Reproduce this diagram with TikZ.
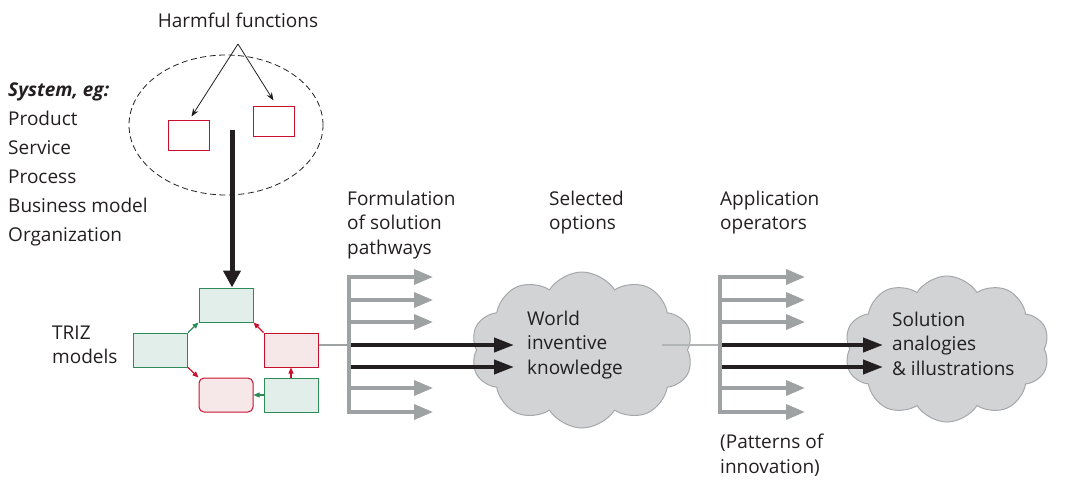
\documentclass[tikz,border=0pt]{standalone}
\usepackage{fontspec}
\setmainfont{Open Sans}
\usetikzlibrary{arrows.meta,shapes.geometric,shapes.symbols}

\definecolor{harmred}{HTML}{C8102E}
\definecolor{harmfill}{HTML}{F6E7E9}
\definecolor{goodgreen}{HTML}{2E8B57}
\definecolor{goodfill}{HTML}{E1EEEA}
\definecolor{pathgray}{HTML}{9EA2A3}
\definecolor{cloudfill}{HTML}{D1D3D4}
\definecolor{cloudline}{HTML}{A5A8AA}
\definecolor{ink}{HTML}{231F20}

\begin{document}
\begin{tikzpicture}[x=1pt,y=-1pt,>=Stealth]
  \tikzstyle{lbl}=[font=\fontsize{19}{24.5}\selectfont, text=ink, align=left, inner sep=0pt]
  \tikzstyle{harmbox}=[draw=harmred, line width=1pt, minimum width=41, minimum height=30]
  \tikzstyle{tz}=[line width=1pt, minimum width=54, minimum height=34]
  \tikzstyle{tzgood}=[tz, draw=goodgreen, fill=goodfill]
  \tikzstyle{tzbad}=[tz, draw=harmred, fill=harmfill]
  \tikzstyle{knowcloud}=[cloud, cloud puffs=10, cloud puff arc=115, draw=cloudline, fill=cloudfill, line width=1pt]
  \tikzstyle{grayarrow}=[pathgray, line width=3.5pt, -{Triangle[length=19pt,width=15pt]}]
  \tikzstyle{blackarrow}=[ink, line width=4pt, -{Triangle[length=20pt,width=14pt]}]
  \tikzstyle{goodarrow}=[goodgreen, line width=1.2pt, -{Triangle[length=6pt,width=5pt]}]
  \tikzstyle{badarrow}=[harmred, line width=1.2pt, -{Triangle[length=6pt,width=5pt]}]
  \useasboundingbox (0,0) rectangle (1072,480);

  % system and its harmful functions
  \node[lbl] (harm) at (238,20) {Harmful functions};
  \node[lbl, anchor=west, font=\fontsize{19}{29}\selectfont] (sysl) at (8,164.5)
    {\textbf{\textit{System, eg:}}\\Product\\Service\\Process\\Business model\\Organization};
  \node[draw=ink, dash pattern=on 6pt off 3.5pt, line width=0.8pt, ellipse, minimum width=194, minimum height=140] (sys) at (226,125) {};
  \node[harmbox] (hf1) at (188.5,135) {};
  \node[harmbox] (hf2) at (273.5,121) {};
  \coordinate (apex) at (238,44);
  \draw[ink, line width=0.8pt, -{Stealth[length=8pt,width=6pt]}] (apex) -- ([xshift=3pt,yshift=3pt]hf1.north);
  \draw[ink, line width=0.8pt, -{Stealth[length=8pt,width=6pt]}] (apex) -- ([yshift=5pt]hf2.north);

  % TRIZ models
  \node[lbl, anchor=west] (triz) at (52,345) {TRIZ\\models};
  \node[tzgood] (tztop) at (226,305) {};
  \node[tzgood] (tzleft) at (160.5,350) {};
  \node[tzbad] (tzright) at (291,350) {};
  \node[tzbad, rounded corners=5pt] (tzbot) at (226,395) {};
  \node[tzgood] (tzbr) at (291,395) {};
  \draw[goodarrow] (tzleft.north east) -- (tztop.south west);
  \draw[badarrow] (tzright.north west) -- (tztop.south east);
  \draw[badarrow] (tzleft.south east) -- (tzbot.north west);
  \draw[badarrow] (tzbr.north) -- (tzright.south);
  \draw[goodarrow] (tzbr.west) -- (tzbot.east);
  \coordinate (sysout) at (232,130);
  \draw[ink, line width=5pt, -{Triangle[length=17pt,width=17pt]}] (sysout) -- ([xshift=6pt]tztop.north);

  % column headings
  \node[lbl, anchor=west] (form) at (347,225) {Formulation\\of solution\\pathways};
  \node[lbl, anchor=west] (sel) at (549,212.5) {Selected\\options};
  \node[lbl, anchor=west] (appl) at (720,212.5) {Application\\operators};
  \node[lbl, anchor=west] (patt) at (720,455) {(Patterns of\\innovation)};

  % clouds of knowledge
  \node[knowcloud, minimum width=222, minimum height=156] (world) at (582,350) {};
  \node[lbl, anchor=west] (worldtxt) at (527,345) {World\\inventive\\knowledge};
  \node[knowcloud, minimum width=205, minimum height=146] (sol) at (947,349) {};
  \node[lbl, anchor=west] (soltxt) at (892,343.5) {Solution\\analogies\\\& illustrations};

  % first fan of pathways
  \coordinate (fork1) at (349,345);
  \coordinate (fork1low) at (349,367);
  \draw[pathgray, line width=2.5pt] (tzright.east |- fork1) -- (fork1);
  \draw[pathgray, line width=3.5pt, line cap=rect] (349,277) -- (349,412);
  \foreach \y in {277,300,322,388,412}
    \draw[grayarrow] (349,\y) -- (433,\y);
  \draw[blackarrow] ([xshift=2pt]fork1) -- ([xshift=-13pt]worldtxt.west |- fork1);
  \draw[blackarrow] ([xshift=2pt]fork1low) -- ([xshift=-13pt]worldtxt.west |- fork1low);

  % second fan of operators
  \coordinate (wout) at (662,345);
  \coordinate (fork2) at (720,345);
  \coordinate (fork2low) at (720,367);
  \draw[pathgray!80, line width=2.5pt] (wout) -- (fork2);
  \draw[pathgray, line width=3.5pt, line cap=rect] (720,277) -- (720,412);
  \foreach \y in {277,300,322,388,412}
    \draw[grayarrow] (720,\y) -- (805,\y);
  \draw[blackarrow] ([xshift=2pt]fork2) -- ([xshift=-9pt]soltxt.west |- fork2);
  \draw[blackarrow] ([xshift=2pt]fork2low) -- ([xshift=-9pt]soltxt.west |- fork2low);
\end{tikzpicture}
\end{document}
